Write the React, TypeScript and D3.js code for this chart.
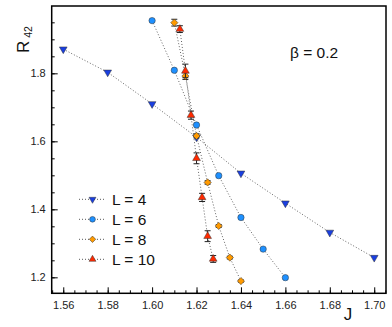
import React, { useEffect, useRef } from 'react';
import * as d3 from 'd3';

// L = 4
const jL4 = [1.56, 1.58, 1.6, 1.62, 1.64, 1.66, 1.68, 1.7];
const rL4 = [1.871, 1.803, 1.71, 1.612, 1.506, 1.418, 1.332, 1.258];
// L = 6
const jL6 = [1.6, 1.61, 1.62, 1.63, 1.64, 1.65, 1.66];
const rL6 = [1.955, 1.809, 1.648, 1.499, 1.376, 1.283, 1.199];
// L = 8
const jL8 = [1.61, 1.615, 1.62, 1.625, 1.63, 1.635, 1.64];
const rL8 = [1.949, 1.792, 1.616, 1.479, 1.351, 1.258, 1.189];
const eL8 = [0.01, 0.01, 0.006, 0.005, 0.004, 0.004, 0.003];
// L = 10
const jL10 = [1.6125, 1.615, 1.6175, 1.62, 1.6225, 1.625, 1.6275];
const rL10 = [1.93, 1.807, 1.677, 1.55, 1.435, 1.321, 1.254];
const eL10 = [0.01, 0.02, 0.012, 0.016, 0.012, 0.016, 0.01];

const xTicks = [1.56, 1.58, 1.6, 1.62, 1.64, 1.66, 1.68, 1.7];
const yTicks = [1.2, 1.4, 1.6, 1.8];

const FONT = 'Liberation Sans, Arial, Helvetica, sans-serif';

const App = () => {
  const ref = useRef<SVGSVGElement>(null);

  useEffect(() => {
    const left = 51.7, top = 6, right = 386, bottom = 293.3;

    const svg = d3.select(ref.current);
    svg.selectAll('*').remove();

    const x = d3.scaleLinear().domain([1.5548, 1.7053]).range([left, right]);
    const y = d3.scaleLinear().domain([1.153, 1.998]).range([bottom, top]);

    const series = [
      { name: 'L = 4', j: jL4, r: rL4, e: null as number[] | null, color: '#1a3fe0', sym: d3.symbolTriangle, rot: 180, size: 26 },
      { name: 'L = 6', j: jL6, r: rL6, e: null, color: '#1e90ff', sym: d3.symbolCircle, rot: 0, size: 32 },
      { name: 'L = 8', j: jL8, r: rL8, e: eL8, color: '#ff9a00', sym: d3.symbolSquare, rot: 45, size: 26 },
      { name: 'L = 10', j: jL10, r: rL10, e: eL10, color: '#ff2a00', sym: d3.symbolTriangle, rot: 0, size: 26 },
    ];

    const line = d3.line<[number, number]>().x(d => x(d[0])).y(d => y(d[1]));

    const clip = svg.append('defs').append('clipPath').attr('id', 'plotclip');
    clip.append('rect').attr('x', left).attr('y', top).attr('width', right - left).attr('height', bottom - top);

    const plot = svg.append('g').attr('clip-path', 'url(#plotclip)');

    series.forEach(s => {
      const pts = s.j.map((j, i) => [j, s.r[i]] as [number, number]);
      plot.append('path')
        .attr('d', line(pts))
        .attr('fill', 'none')
        .attr('stroke', '#666')
        .attr('stroke-width', 1)
        .attr('stroke-dasharray', '1,2');
    });

    series.forEach(s => {
      if (s.e) {
        s.j.forEach((j, i) => {
          const cx = x(j);
          const y1 = y(s.r[i] + s.e![i]);
          const y2 = y(s.r[i] - s.e![i]);
          const g = plot.append('g').attr('stroke', '#222').attr('stroke-width', 1);
          g.append('line').attr('x1', cx).attr('x2', cx).attr('y1', y1).attr('y2', y2);
          g.append('line').attr('x1', cx - 3).attr('x2', cx + 3).attr('y1', y1).attr('y2', y1);
          g.append('line').attr('x1', cx - 3).attr('x2', cx + 3).attr('y1', y2).attr('y2', y2);
        });
      }
      const sym = d3.symbol().type(s.sym).size(s.size);
      s.j.forEach((j, i) => {
        plot.append('path')
          .attr('d', sym())
          .attr('transform', `translate(${x(j)},${y(s.r[i])}) rotate(${s.rot})`)
          .attr('fill', s.color)
          .attr('stroke', '#333')
          .attr('stroke-width', 0.5);
      });
    });

    // axes, ticks inward
    const xMinor = d3.range(1.555, 1.7051, 0.005);
    const yMinor = d3.range(1.2, 1.951, 0.05);

    svg.append('g')
      .attr('transform', `translate(0,${bottom})`)
      .call(d3.axisBottom(x).tickValues(xMinor).tickSize(-3).tickFormat(() => ''))
      .call(g => g.select('.domain').remove());
    svg.append('g')
      .attr('transform', `translate(0,${bottom})`)
      .call(d3.axisBottom(x).tickValues(xTicks).tickSize(-6).tickPadding(8).tickFormat(d3.format('.2f')))
      .call(g => g.select('.domain').remove())
      .call(g => g.selectAll('text').attr('font-size', 11).attr('font-family', FONT).attr('fill', '#222'));

    svg.append('g')
      .attr('transform', `translate(${left},0)`)
      .call(d3.axisLeft(y).tickValues(yMinor).tickSize(-3).tickFormat(() => ''))
      .call(g => g.select('.domain').remove());
    svg.append('g')
      .attr('transform', `translate(${left},0)`)
      .call(d3.axisLeft(y).tickValues(yTicks).tickSize(-6).tickPadding(6).tickFormat(d3.format('.1f')))
      .call(g => g.select('.domain').remove())
      .call(g => g.selectAll('text').attr('font-size', 11).attr('font-family', FONT).attr('fill', '#222'));

    svg.selectAll('.tick line').attr('stroke', '#000').attr('stroke-width', 1);

    svg.append('rect')
      .attr('x', left).attr('y', top)
      .attr('width', right - left).attr('height', bottom - top)
      .attr('fill', 'none').attr('stroke', '#000').attr('stroke-width', 1.5);

    // axis titles
    const yl = svg.append('text')
      .attr('transform', 'translate(29,53) rotate(-90)')
      .attr('font-family', FONT)
      .attr('font-size', 17)
      .attr('fill', '#111');
    yl.append('tspan').text('R');
    yl.append('tspan').attr('dx', 3).attr('dy', 3).attr('font-size', 10.5).text('42');

    svg.append('text')
      .attr('x', 348).attr('y', 320)
      .attr('text-anchor', 'middle')
      .attr('font-family', FONT).attr('font-size', 17).attr('fill', '#111')
      .text('J');

    svg.append('text')
      .attr('x', 290).attr('y', 58)
      .attr('font-family', FONT).attr('font-size', 15.5).attr('fill', '#111')
      .text('β = 0.2');

    // legend
    series.forEach((s, i) => {
      const ly = 199.3 + i * 20;
      const g = svg.append('g');
      g.append('line')
        .attr('x1', 79).attr('x2', 104).attr('y1', ly).attr('y2', ly)
        .attr('stroke', '#555').attr('stroke-dasharray', '1,2');
      g.append('path')
        .attr('d', d3.symbol().type(s.sym).size(s.size * 0.8)())
        .attr('transform', `translate(92.5,${ly}) rotate(${s.rot})`)
        .attr('fill', s.color).attr('stroke', '#333').attr('stroke-width', 0.5);
      g.append('text')
        .attr('x', 112).attr('y', ly + 5.5)
        .attr('font-family', FONT).attr('font-size', 15.5).attr('fill', '#111')
        .text(s.name);
    });
  }, []);

  return (
    <svg
      ref={ref}
      width={392}
      height={327}
      style={{ position: 'absolute', left: 0, top: 0, background: '#fff' }}
    />
  );
};

export default App;
